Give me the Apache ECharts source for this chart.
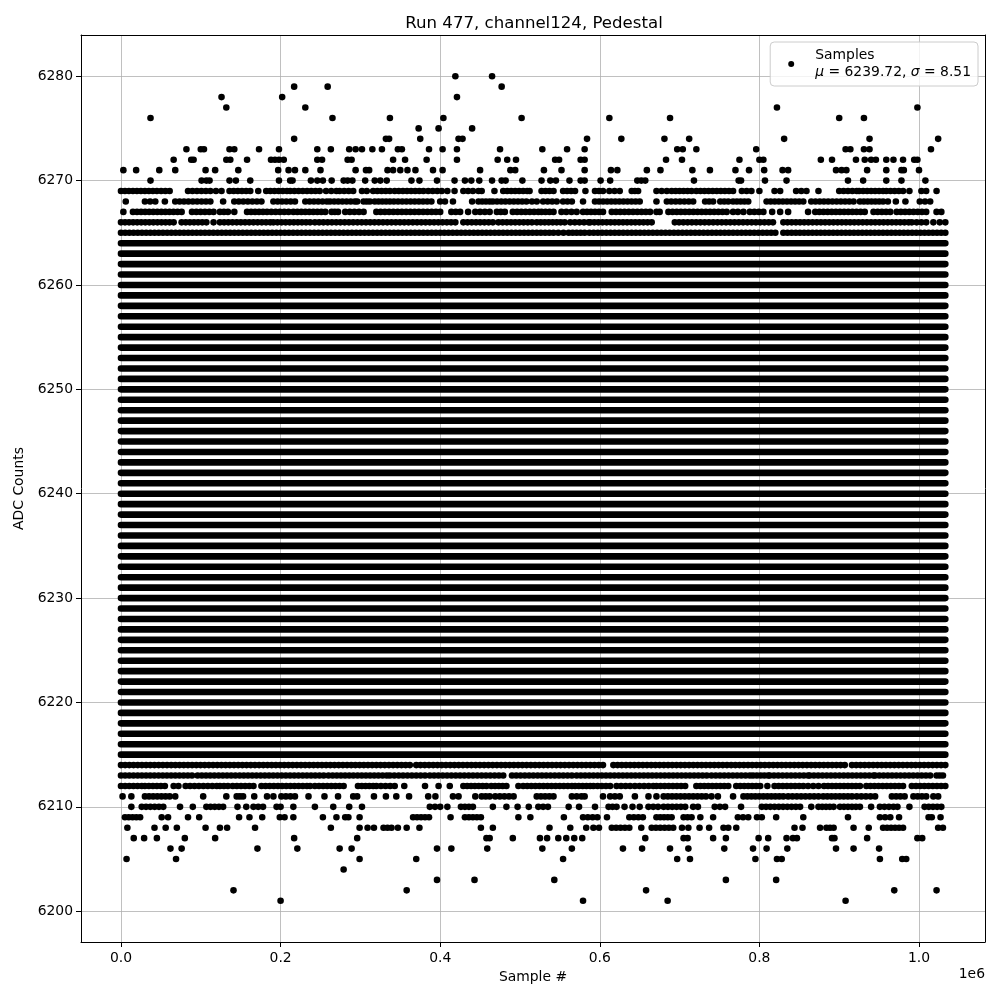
<!DOCTYPE html>
<html><head><meta charset="utf-8">
<script src="https://cdn.jsdelivr.net/npm/echarts@6/dist/echarts.min.js"></script>
<style>html,body{margin:0;padding:0;background:#fff}#c{width:1000px;height:1000px}</style>
</head><body><div id="c"></div><script>
// x values are sample numbers in units of 1e6 (matplotlib offset "1e6")
const xTicks = [0.0, 0.2, 0.4, 0.6, 0.8, 1.0];
const yTicks = [6200, 6210, 6220, 6230, 6240, 6250, 6260, 6270, 6280];
const muValue = 6239.72, sigmaValue = 8.51;
const fullRange = [0, 1.033];
const fullLevels = [6215,6216,6217,6218,6219,6220,6221,6222,6223,6224,6225,6226,6227,6228,6229,6230,6231,6232,6233,6234,6235,6236,6237,6238,6239,6240,6241,6242,6243,6244,6245,6246,6247,6248,6249,6250,6251,6252,6253,6254,6255,6256,6257,6258,6259,6260,6261,6262,6263,6264];

// sparse / partial rows: single samples or [start,end] runs of contiguous samples
const row6280 = [0.419, 0.465];
const row6279 = [0.217, 0.259, 0.477];
const row6278 = [0.126, 0.202, 0.421];
const row6277 = [0.132, 0.231, 0.822, 0.998];
const row6276 = [0.037, 0.265, 0.337, 0.404, 0.502, 0.612, 0.688, 0.900, 0.931];
const row6275 = [0.373, 0.398, 0.440];
const row6274 = [0.217, [0.332,0.336], 0.375, [0.423,0.428], 0.584, 0.627, 0.681, 0.712, 0.831, 0.938, 1.024];
const row6273 = [0.082, 0.100, 0.104, 0.136, 0.142, 0.173, 0.198, 0.246, 0.263, 0.286, 0.294, 0.302, 0.315, 0.327, 0.347, 0.352, 0.386, 0.403, 0.421, 0.475, 0.528, 0.559, 0.581, 0.697, 0.704, 0.721, 0.796, 0.908, 0.914, 0.931, 0.938, 1.015];
const row6272 = [0.066, 0.088, 0.091, 0.132, 0.137, 0.158, 0.188, 0.193, 0.198, 0.204, 0.246, 0.252, 0.284, 0.289, 0.341, 0.356, 0.383, 0.421, 0.472, 0.484, 0.495, 0.544, 0.549, 0.576, 0.581, 0.683, 0.703, 0.775, 0.800, 0.805, 0.877, 0.891, 0.921, 0.932, 0.940, 0.946, 0.959, 0.968, 0.980, 0.994, 0.998];
const row6271 = [0.003, 0.019, 0.048, 0.068, 0.106, 0.118, 0.147, 0.197, 0.210, 0.218, 0.231, 0.250, 0.294, 0.307, 0.311, 0.334, 0.341, 0.350, 0.359, 0.369, 0.391, 0.403, 0.450, 0.488, 0.494, 0.530, 0.552, 0.581, 0.614, 0.622, 0.659, 0.676, 0.716, 0.738, 0.770, 0.787, 0.806, 0.829, 0.836, 0.896, 0.903, 0.909, 0.935, 0.959, 0.978, 0.981, 1.000];
const row6270 = [0.037, 0.101, 0.107, 0.111, 0.136, 0.144, 0.162, 0.198, 0.212, 0.215, 0.238, 0.246, 0.253, 0.264, 0.279, 0.284, 0.290, 0.306, 0.318, 0.325, 0.333, 0.364, 0.374, 0.396, 0.418, 0.431, 0.439, 0.449, 0.465, 0.477, 0.482, 0.503, 0.527, 0.538, 0.545, 0.562, 0.576, 0.581, 0.601, 0.613, 0.647, 0.652, 0.657, 0.718, 0.774, 0.777, 0.807, 0.834, 0.911, 0.930, 0.959, 0.978, 1.008];
const row6269 = [[0.0,0.040],[0.045,0.061],[0.084,0.112],[0.119,0.126],[0.136,0.162],0.172,[0.182,0.208],[0.212,0.249],[0.257,0.270],[0.274,0.291],[0.302,0.308],[0.316,0.337],[0.343,0.379],[0.385,0.402],0.409,0.418,[0.429,0.441],[0.448,0.452],0.468,[0.479,0.504],[0.509,0.512],[0.527,0.542],[0.554,0.569],0.582,[0.594,0.604],[0.612,0.625],[0.640,0.648],[0.671,0.684],[0.690,0.715],[0.721,0.767],[0.778,0.790],0.800,[0.819,0.826],[0.846,0.859],0.874,[0.900,0.922],[0.925,0.930],[0.935,0.955],[0.959,0.980],0.988,[1.003,1.009],1.022];
const row6268 = [0.006,[0.030,0.043],0.055,[0.068,0.112],0.128,[0.142,0.176],[0.191,0.218],[0.231,0.258],[0.262,0.293],0.296,[0.304,0.312],[0.318,0.337],[0.342,0.389],[0.400,0.406],0.416,0.440,[0.448,0.462],[0.466,0.508],[0.515,0.521],[0.529,0.546],[0.554,0.565],0.579,[0.594,0.650],0.671,[0.684,0.717],[0.732,0.742],[0.751,0.761],[0.767,0.786],[0.809,0.855],[0.865,0.918],[0.926,0.955],0.961,0.971,0.983,[1.001,1.014]];
const row6267 = [0.003,[0.015,0.076],[0.089,0.116],[0.124,0.134],0.142,[0.158,0.178],[0.183,0.210],[0.216,0.256],[0.264,0.272],[0.281,0.304],[0.320,0.400],[0.414,0.425],0.435,[0.444,0.462],[0.471,0.481],[0.491,0.523],[0.527,0.542],0.552,[0.558,0.571],[0.579,0.604],[0.615,0.663],[0.671,0.675],[0.686,0.759],0.767,[0.773,0.780],[0.788,0.805],0.816,0.826,0.836,0.861,[0.870,0.932],[0.943,0.964],[0.972,1.009],[1.022,1.028]];
const row6266 = [[0,0.066],[0.076,0.107],0.116,[0.124,0.187],[0.191,0.237],[0.243,0.419],[0.429,0.466],[0.473,0.515],[0.521,0.556],[0.563,0.586],[0.588,0.665],[0.694,0.817],[0.830,0.987],[0.991,1.009],1.018,[1.026,1.033]];
const row6265 = [[0,0.542],[0.548,0.561],[0.566,0.581],[0.587,0.820],[0.830,1.033]];
const row6214 = [[0,0.362],[0.370,0.604],[0.617,0.907],[0.916,1.033]];
const row6213 = [[0,0.089],[0.096,0.254],[0.260,0.333],[0.337,0.381],[0.387,0.479],[0.490,0.565],[0.571,0.734],[0.740,0.788],[0.792,0.811],[0.813,0.861],[0.863,0.943],[0.945,1.014],[1.022,1.030]];
const row6212 = [[0,0.026],[0.030,0.055],[0.066,0.072],[0.081,0.120],[0.124,0.134],[0.140,0.166],[0.176,0.233],0.237,[0.243,0.279],[0.297,0.316],[0.320,0.343],0.355,0.381,0.398,0.412,[0.429,0.458],[0.464,0.483],0.498,[0.504,0.565],[0.569,0.588],[0.592,0.613],[0.621,0.638],[0.644,0.667],[0.671,0.707],[0.721,0.761],[0.771,0.801],0.810,[0.819,0.855],[0.861,0.874],[0.881,0.926],[0.934,0.980],[0.991,1.033]];
const row6211 = [0.002,0.013,[0.030,0.061],0.068,0.103,0.132,[0.145,0.153],0.167,0.183,0.191,[0.201,0.218],0.235,0.255,0.272,[0.291,0.296],0.317,0.332,0.345,0.361,0.385,0.394,[0.416,0.423],0.444,[0.452,0.462],[0.469,0.492],[0.521,0.542],[0.565,0.577],0.581,0.604,[0.613,0.625],0.644,0.661,0.671,[0.680,0.733],0.740,0.748,0.767,[0.780,0.830],[0.836,0.874],[0.880,0.916],[0.922,0.945],[0.966,0.982],[0.993,1.009],[1.018,1.024]];
const row6210 = [0.013,[0.026,0.053],0.074,0.090,[0.107,0.128],0.146,0.157,[0.166,0.178],[0.195,0.200],0.216,0.243,0.266,0.286,0.302,[0.387,0.400],0.409,[0.426,0.441],0.466,0.483,0.497,0.511,[0.523,0.535],0.561,0.574,0.594,[0.611,0.621],0.631,0.641,0.650,[0.661,0.673],[0.680,0.707],[0.717,0.723],[0.744,0.757],0.777,[0.803,0.851],0.865,[0.874,0.893],[0.901,0.926],0.940,[0.951,0.968],0.973,0.988,[1.007,1.028]];
const row6209 = [[0.005,0.024],0.051,0.059,0.084,0.098,0.148,0.161,0.177,[0.199,0.205],0.216,0.253,0.270,[0.281,0.285],0.299,[0.366,0.386],0.413,[0.431,0.451],0.498,0.513,0.555,[0.579,0.597],0.609,[0.637,0.654],[0.671,0.690],[0.705,0.715],0.726,0.742,[0.773,0.786],[0.797,0.803],0.821,0.855,0.911,[0.951,0.964],0.975,[1.012,1.016],1.027];
const row6208 = [0.008,0.042,0.056,0.070,0.106,0.124,0.133,0.168,0.263,0.299,0.309,0.317,[0.329,0.339],0.347,0.358,0.374,0.451,0.466,0.537,0.563,0.583,[0.592,0.599],[0.615,0.637],0.652,[0.665,0.692],0.703,0.711,0.725,0.737,[0.755,0.761],0.771,0.844,0.854,0.876,[0.884,0.893],0.918,0.937,[0.955,0.980],[1.024,1.030]];
const row6207 = [0.016,0.029,0.045,0.080,0.118,0.217,0.296,[0.458,0.462],0.491,0.525,0.534,0.548,0.558,0.568,0.578,0.657,[0.705,0.710],0.742,0.758,0.799,0.811,0.834,[0.842,0.847],[0.891,0.894],0.935,[0.998,1.004]];
const row6206 = [0.062,0.076,0.171,0.221,0.274,0.289,0.396,0.414,0.459,0.528,0.565,0.629,0.653,0.688,0.711,0.756,0.792,0.809,0.835,0.896,0.918,0.950];
const row6205 = [0.007,0.069,0.299,0.370,0.554,0.697,0.713,0.795,[0.822,0.828],0.951,[0.979,0.984]];
const row6204 = [0.279];
const row6203 = [0.396,0.443,0.543,0.758,0.821];
const row6202 = [0.141,0.358,0.658,0.969,1.022];
const row6201 = [0.200,0.579,0.685,0.908];

const partialRows = [
  [6280,row6280],[6279,row6279],[6278,row6278],[6277,row6277],[6276,row6276],[6275,row6275],
  [6274,row6274],[6273,row6273],[6272,row6272],[6271,row6271],[6270,row6270],[6269,row6269],
  [6268,row6268],[6267,row6267],[6266,row6266],[6265,row6265],[6214,row6214],[6213,row6213],
  [6212,row6212],[6211,row6211],[6210,row6210],[6209,row6209],[6208,row6208],[6207,row6207],
  [6206,row6206],[6205,row6205],[6204,row6204],[6203,row6203],[6202,row6202],[6201,row6201]
];

// [start, end, level, isFullBand]
const segs = [];
fullLevels.forEach(v => segs.push([fullRange[0], fullRange[1], v, 1]));
partialRows.forEach(([v, arr]) => arr.forEach(e => {
  if (Array.isArray(e)) segs.push([e[0], e[1], v, 0]); else segs.push([e, e, v, 0]);
}));

const FONT = 'DejaVu Sans';
const DOT = 6.6;
const BEAD_STEP = 4.2;
const chart = echarts.init(document.getElementById('c'), null, {renderer: 'canvas'});
const axisCommon = {
  axisLine: {show: true, onZero: false, lineStyle: {color: '#000', width: 1}},
  axisTick: {show: true, length: 5, lineStyle: {color: '#000', width: 1}},
  splitLine: {show: true, lineStyle: {color: '#b0b0b0', width: 0.8}},
};
chart.setOption({
  animation: false,
  backgroundColor: '#fff',
  title: {
    text: 'Run 477, channel124, Pedestal', left: 529, top: 10, textAlign: 'center',
    textStyle: {fontFamily: FONT, fontSize: 16.6, fontWeight: 'normal', color: '#000'}
  },
  grid: {left: 81, right: 15, top: 35, bottom: 58, containLabel: false},
  legend: {
    right: 22, top: 42, orient: 'vertical',
    data: [{name: 'Samples', icon: 'circle', itemStyle: {color: '#000'}}],
    itemWidth: 6, itemHeight: 6,
    padding: [5, 7, 5, 18],
    backgroundColor: 'rgba(255,255,255,0.8)',
    borderColor: '#cccccc', borderWidth: 1, borderRadius: 4,
    selectedMode: false,
    formatter: () => '{a|Samples}\n{i|\u03bc}{a| = ' + muValue.toFixed(2) + ', }{i|\u03c3}{a| = ' + sigmaValue.toFixed(2) + '}',
    textStyle: {
      fontFamily: FONT, fontSize: 13.9, color: '#000', padding: [0, 0, 0, 16], lineHeight: 17,
      rich: {
        a: {fontFamily: FONT, fontSize: 13.9, color: '#000', lineHeight: 17},
        i: {fontFamily: FONT, fontSize: 13.9, color: '#000', fontStyle: 'italic', lineHeight: 17}
      }
    }
  },
  xAxis: [Object.assign({}, axisCommon, {
    type: 'value', min: -0.0501, max: 1.0827, position: 'bottom',
    name: 'Sample #', nameLocation: 'middle', nameGap: 28,
    nameTextStyle: {fontFamily: FONT, fontSize: 13.9, color: '#000'},
    axisTick: Object.assign({}, axisCommon.axisTick, {customValues: xTicks}),
    axisLabel: {customValues: xTicks, formatter: v => Number(v).toFixed(1), margin: 9,
      fontFamily: FONT, fontSize: 13.9, color: '#000'}
  }), {
    type: 'value', min: -0.0501, max: 1.0827, position: 'top',
    axisLine: {show: true, onZero: false, lineStyle: {color: '#000', width: 1}},
    axisTick: {show: false}, axisLabel: {show: false}, splitLine: {show: false}
  }],
  yAxis: [Object.assign({}, axisCommon, {
    type: 'value', min: 6197.05, max: 6283.95, position: 'left',
    name: 'ADC Counts', nameLocation: 'middle', nameGap: 43, nameRotate: 90,
    nameTextStyle: {fontFamily: FONT, fontSize: 13.9, color: '#000'},
    axisTick: Object.assign({}, axisCommon.axisTick, {customValues: yTicks}),
    axisLabel: {customValues: yTicks, formatter: v => String(Math.round(v)), margin: 8,
      fontFamily: FONT, fontSize: 13.9, color: '#000'}
  }), {
    type: 'value', min: 6197.05, max: 6283.95, position: 'right',
    axisLine: {show: true, onZero: false, lineStyle: {color: '#000', width: 1}},
    axisTick: {show: false}, axisLabel: {show: false}, splitLine: {show: false}
  }],
  graphic: [{
    type: 'text', right: 15, top: 967,
    style: {text: '1e6', fontFamily: FONT, fontSize: 13.9, fill: '#000'}
  }],
  series: [{
    name: 'Samples', type: 'custom', xAxisIndex: 0, yAxisIndex: 0,
    itemStyle: {color: '#000'},
    encode: {x: [0, 1], y: 2},
    data: segs,
    clip: true,
    renderItem: (params, api) => {
      const y = api.value(2);
      const p0 = api.coord([api.value(0), y]);
      const p1 = api.coord([api.value(1), y]);
      const len = p1[0] - p0[0];
      if (api.value(3) === 1 || len < 0.5) {
        return {
          type: 'rect',
          shape: {x: p0[0] - DOT / 2, y: p0[1] - DOT / 2, width: len + DOT, height: DOT, r: DOT / 2},
          style: {fill: '#000'}
        };
      }
      // a run of contiguous samples: draw as a chain of overlapping dots
      const n = Math.max(1, Math.round(len / BEAD_STEP));
      const children = [];
      for (let k = 0; k <= n; k++) {
        const cx = p0[0] + len * k / n;
        children.push({type: 'circle', shape: {cx: cx, cy: p0[1], r: DOT / 2}, style: {fill: '#000'}});
      }
      return {type: 'group', children: children};
    }
  }]
});
</script></body></html>
